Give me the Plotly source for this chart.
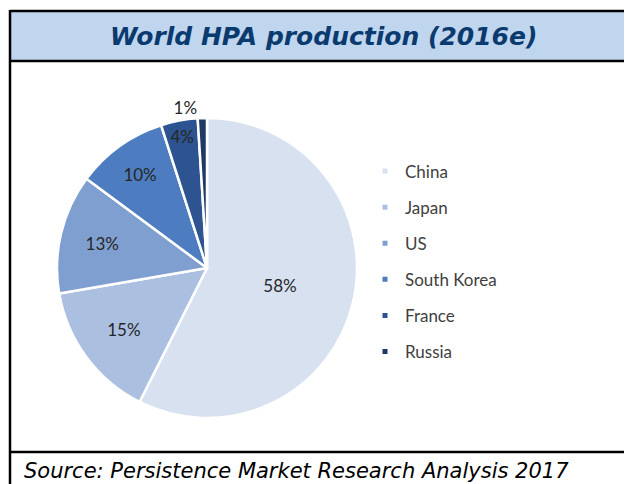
import plotly.graph_objects as go

labels = ["China", "Japan", "US", "South Korea", "France", "Russia"]
values = [58, 15, 13, 10, 4, 1]
colors = ["#D8E1F0", "#ABC0E1", "#7F9FD1", "#4D7DC0", "#2D5490", "#1F3864"]
text_positions = ["inside", "inside", "inside", "inside", "inside", "outside"]
title_text = "World HPA production (2016e)"
source_text = "Source: Persistence Market Research Analysis 2017"

# the page body adds an 8px margin, so the figure is drawn 8px in from the window edge
OFF = 8
W, H = 632 - OFF, 484 - OFF

def px(x):
    return (x - OFF) / W

def py(y):
    return 1 - (y - OFF) / H

fig = go.Figure()

fig.add_trace(go.Pie(
    labels=labels,
    values=values,
    sort=False,
    direction="clockwise",
    rotation=0,
    marker=dict(colors=colors, line=dict(color="white", width=2.5)),
    texttemplate="%{value}%",
    textposition=text_positions,
    insidetextorientation="horizontal",
    textfont=dict(family="Lato", size=17, color="#262626"),
    showlegend=False,
    domain=dict(x=[px(57), px(357)], y=[py(418), py(118)]),
    hovertemplate="%{label}: %{value}%<extra></extra>",
))

for lab, col in zip(labels, colors):
    fig.add_trace(go.Scatter(
        x=[None], y=[None], mode="markers", name=lab, legendgroup=lab,
        marker=dict(symbol="square", size=5, color=col),
        showlegend=True,
    ))

shapes = [
    dict(type="rect", xref="paper", yref="paper", x0=px(10), x1=px(650), y0=py(61), y1=py(11),
         fillcolor="#BFD6EE", line=dict(width=0), layer="below"),
    dict(type="line", xref="paper", yref="paper", x0=px(10), x1=px(650), y0=py(11), y1=py(11),
         line=dict(color="black", width=2.5)),
    dict(type="line", xref="paper", yref="paper", x0=px(10), x1=px(650), y0=py(61), y1=py(61),
         line=dict(color="black", width=2.5)),
    dict(type="line", xref="paper", yref="paper", x0=px(10), x1=px(650), y0=py(452), y1=py(452),
         line=dict(color="black", width=2.5)),
    dict(type="line", xref="paper", yref="paper", x0=px(10), x1=px(10), y0=py(10), y1=py(500),
         line=dict(color="black", width=2.5)),
]

annotations = [
    dict(text="<b><i>" + title_text + "</i></b>", xref="paper", yref="paper",
         x=px(323), y=py(36), xanchor="center", yanchor="middle", showarrow=False,
         font=dict(family="DejaVu Sans", size=25, color="#0B3A6E")),
    dict(text="<i>" + source_text + "</i>", xref="paper", yref="paper",
         x=px(22), y=py(471), xanchor="left", yanchor="middle", showarrow=False,
         font=dict(family="DejaVu Sans", size=21, color="black")),
]

fig.update_layout(
    width=W, height=H,
    margin=dict(l=0, r=0, t=0, b=0),
    paper_bgcolor="white", plot_bgcolor="white",
    xaxis=dict(visible=False), yaxis=dict(visible=False),
    shapes=shapes, annotations=annotations,
    uniformtext=dict(minsize=17, mode="show"),
    legend=dict(x=px(365), y=py(153.5), xanchor="left", yanchor="top",
                traceorder="grouped", tracegroupgap=11,
                font=dict(family="Lato", size=17, color="#404040"),
                bgcolor="rgba(0,0,0,0)", itemwidth=30),
)

fig.write_html("out.html")
